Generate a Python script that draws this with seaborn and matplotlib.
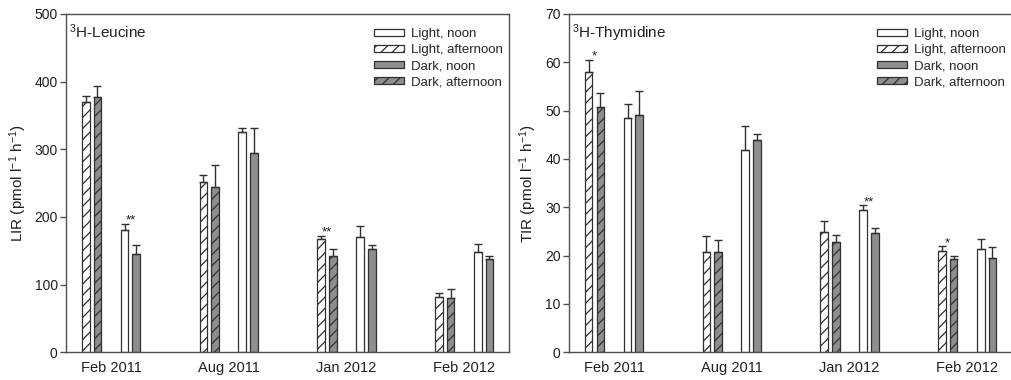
import numpy as np
import pandas as pd
import matplotlib
matplotlib.use("Agg")
import matplotlib.pyplot as plt
import seaborn as sns

# ---- data -------------------------------------------------------------
dates = ["Feb 2011", "Aug 2011", "Jan 2012", "Feb 2012"]
conditions = ["Light, noon", "Light, afternoon", "Dark, noon", "Dark, afternoon"]

# Leucine incorporation rate (pmol l-1 h-1): means and upper error
lir_light_noon = [181, 325, 170, 148]
lir_light_noon_err = [9, 7, 17, 12]
lir_light_aft = [370, 252, 168, 81]
lir_light_aft_err = [9, 10, 4, 6]
lir_dark_noon = [145, 294, 152, 138]
lir_dark_noon_err = [14, 37, 7, 4]
lir_dark_aft = [378, 245, 143, 80]
lir_dark_aft_err = [16, 32, 10, 14]

# Thymidine incorporation rate (pmol l-1 h-1): means and upper error
tir_light_noon = [48.4, 41.9, 29.4, 21.4]
tir_light_noon_err = [2.9, 4.9, 1.0, 2.1]
tir_light_aft = [57.9, 20.8, 24.8, 21.0]
tir_light_aft_err = [2.6, 3.3, 2.4, 0.9]
tir_dark_noon = [49.0, 44.0, 24.6, 19.5]
tir_dark_noon_err = [5.1, 1.2, 1.1, 2.3]
tir_dark_aft = [50.7, 20.8, 22.9, 19.3]
tir_dark_aft_err = [3.0, 2.4, 1.3, 0.7]

# significance marks: (date, time of day, label)
lir_stars = [("Feb 2011", "noon", "**"), ("Jan 2012", "afternoon", "**")]
tir_stars = [("Feb 2011", "afternoon", "*"), ("Jan 2012", "noon", "**"),
             ("Feb 2012", "afternoon", "*")]

# ---- style ------------------------------------------------------------
sns.set_style("ticks")
plt.rcParams["font.family"] = ["Liberation Sans", "DejaVu Sans"]
plt.rcParams["mathtext.default"] = "regular"
plt.rcParams["hatch.linewidth"] = 0.9
plt.rcParams["hatch.color"] = "#262626"

EDGE = "#303030"
SPINE = "#505050"
GRAY = "#8e8e8e"
TEXT = "#202020"
fills = {"Light, noon": "white", "Light, afternoon": "white",
         "Dark, noon": GRAY, "Dark, afternoon": GRAY}
hatches = {"Light, noon": "", "Light, afternoon": "///",
           "Dark, noon": "", "Dark, afternoon": "///"}
# bar offsets within each sampling date: afternoon pair left, noon pair right
offsets = {"Light, afternoon": -0.215, "Dark, afternoon": -0.115,
           "Light, noon": 0.115, "Dark, noon": 0.215}
pair_center = {"afternoon": -0.165, "noon": 0.165}


def time_of_day(cond):
    return cond.split(", ")[1]


def make_frame(series):
    rows = []
    for cond, (vals, errs) in series.items():
        for i, (v, e) in enumerate(zip(vals, errs)):
            rows.append({"date": dates[i], "condition": cond,
                         "time": time_of_day(cond),
                         "pos": i + offsets[cond], "value": v, "err": e})
    return pd.DataFrame(rows)


lir = make_frame({
    "Light, noon": (lir_light_noon, lir_light_noon_err),
    "Light, afternoon": (lir_light_aft, lir_light_aft_err),
    "Dark, noon": (lir_dark_noon, lir_dark_noon_err),
    "Dark, afternoon": (lir_dark_aft, lir_dark_aft_err),
})
tir = make_frame({
    "Light, noon": (tir_light_noon, tir_light_noon_err),
    "Light, afternoon": (tir_light_aft, tir_light_aft_err),
    "Dark, noon": (tir_dark_noon, tir_dark_noon_err),
    "Dark, afternoon": (tir_dark_aft, tir_dark_aft_err),
})

fig = plt.figure(figsize=(10.11, 3.80), dpi=100)
ax1 = fig.add_axes([0.0653, 0.0729, 0.4382, 0.8903])
ax2 = fig.add_axes([0.5628, 0.0729, 0.4382, 0.8903])


def draw_panel(ax, df, ymax, ystep, ylabel, title, stars):
    sns.barplot(data=df, x="pos", y="value", hue="condition",
                hue_order=conditions, palette=fills, native_scale=True,
                dodge=False, width=0.65, errorbar=None, saturation=1,
                edgecolor=EDGE, linewidth=0.9, legend=False, orient="x", ax=ax)
    for cont, cond in zip(ax.containers, conditions):
        for p in cont:
            p.set_hatch(hatches[cond])
            p.set_edgecolor(EDGE)
    ax.errorbar(df["pos"], df["value"],
                yerr=[np.zeros(len(df)), df["err"]], fmt="none",
                ecolor=EDGE, elinewidth=1.0, capsize=3, capthick=1.0, zorder=3)

    for date, when, label in stars:
        i = dates.index(date)
        sel = df[(df["date"] == date) & (df["time"] == when)]
        y = (sel["value"] + sel["err"]).max()
        ax.text(i + pair_center[when], y, label, ha="center", va="baseline",
                fontsize=9.5, color=TEXT)

    ax.set_xlim(-0.382, 3.381)
    ax.set_ylim(0, ymax)
    ax.set_yticks(np.arange(0, ymax + 1e-9, ystep))
    ax.set_xticks(range(len(dates)))
    ax.set_xticklabels(dates, fontsize=10.5, color=TEXT)
    ax.tick_params(axis="y", direction="out", length=4, width=1,
                   color=SPINE, labelsize=10, labelcolor=TEXT, pad=2)
    ax.tick_params(axis="x", length=0, pad=6)
    ax.set_xlabel("")
    ax.set_ylabel(ylabel, fontsize=11, color=TEXT, labelpad=4)
    for s in ax.spines.values():
        s.set_visible(True)
        s.set_color(SPINE)
        s.set_linewidth(1.0)
    ax.text(0.006, 0.975, title, transform=ax.transAxes, ha="left", va="top",
            fontsize=11, color=TEXT)
    ax.legend(handles=ax.containers, labels=conditions, loc="upper right",
              bbox_to_anchor=(0.987, 0.958), frameon=False, fontsize=9.5,
              handlelength=2.3, handleheight=0.45, labelspacing=0.3,
              handletextpad=0.55, borderaxespad=0, borderpad=0)


draw_panel(ax1, lir, 500, 100, r"LIR (pmol l$^{-1}$ h$^{-1}$)",
           r"$^{3}$H-Leucine", lir_stars)
draw_panel(ax2, tir, 70, 10, r"TIR (pmol l$^{-1}$ h$^{-1}$)",
           r"$^{3}$H-Thymidine", tir_stars)

fig.savefig("out.png", dpi=100)
